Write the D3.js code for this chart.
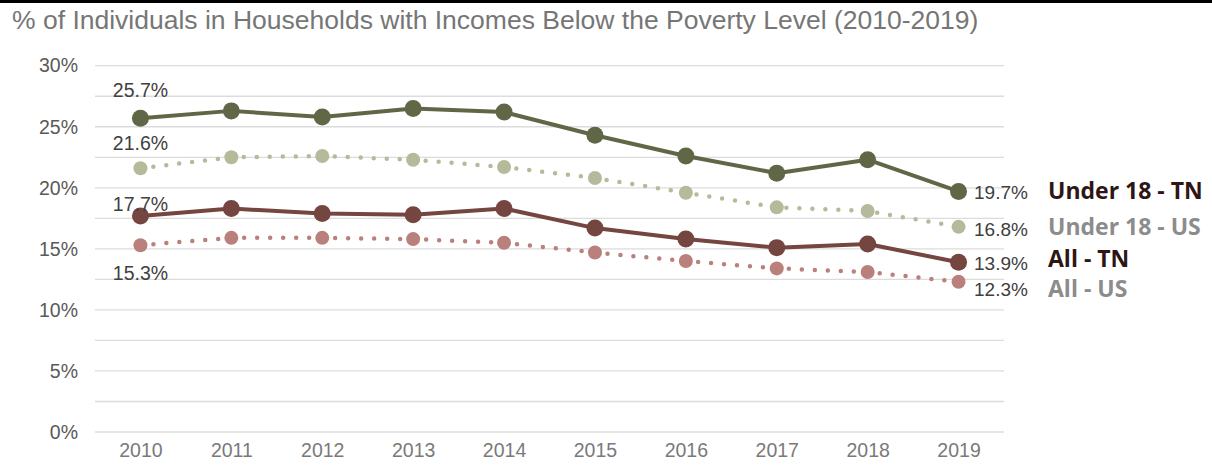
<!DOCTYPE html>
<html>
<head>
<meta charset="utf-8">
<script src="https://cdn.jsdelivr.net/npm/d3@7"></script>
<style>
  body { margin: 0; background: #fff; }
  svg { display: block; font-family: "Liberation Sans", Arial, sans-serif; }
</style>
</head>
<body>
<div id="chart"></div>
<script>
// data
const years = [2010, 2011, 2012, 2013, 2014, 2015, 2016, 2017, 2018, 2019];
const under18TN = [25.7, 26.3, 25.8, 26.5, 26.2, 24.3, 22.6, 21.2, 22.3, 19.7];
const under18US = [21.6, 22.5, 22.6, 22.3, 21.7, 20.8, 19.6, 18.4, 18.1, 16.8];
const allTN     = [17.7, 18.3, 17.9, 17.8, 18.3, 16.7, 15.8, 15.1, 15.4, 13.9];
const allUS     = [15.3, 15.9, 15.9, 15.8, 15.5, 14.7, 14.0, 13.4, 13.1, 12.3];
const yTicks = [0, 5, 10, 15, 20, 25, 30];
const gridTicks = [0, 2.5, 5, 7.5, 10, 12.5, 15, 17.5, 20, 22.5, 25, 27.5, 30];
const title = '% of Individuals in Households with Incomes Below the Poverty Level (2010-2019)';

const [width, height] = [1212, 468];

const series = [
    { name: 'Under 18 - TN', values: under18TN, color: '#606746', dotted: false, r: 8.5,
      legendColor: '#2e1614', legendY: 191, endY: 192, startLabelY: 90 },
    { name: 'Under 18 - US', values: under18US, color: '#b5bb9a', dotted: true, r: 7,
      legendColor: '#8c8c8c', legendY: 227, endY: 229, startLabelY: 143 },
    { name: 'All - TN', values: allTN, color: '#754540', dotted: false, r: 8.5,
      legendColor: '#2e1614', legendY: 259, endY: 263, startLabelY: 204 },
    { name: 'All - US', values: allUS, color: '#b9807c', dotted: true, r: 7,
      legendColor: '#8c8c8c', legendY: 289, endY: 289, startLabelY: 273 }
];

const x = d3.scalePoint()
    .domain(years)
    .range([95, 1004])
    .padding(0.5);

const y = d3.scaleLinear()
    .domain([0, 30])
    .range([432, 65.7]);

const svg = d3.select('#chart')
    .append('svg')
    .attr('width', width)
    .attr('height', height);

// top rule
svg.append('rect')
    .attr('x', 0).attr('y', 0)
    .attr('width', width).attr('height', 3)
    .attr('fill', '#000');

// title
svg.append('text')
    .attr('x', 12)
    .attr('y', 29)
    .attr('fill', '#767676')
    .style('font-size', '26.5px')
    .text(title);

// gridlines
svg.append('g')
    .selectAll('line')
    .data(gridTicks)
    .join('line')
    .attr('x1', 95)
    .attr('x2', 1004)
    .attr('y1', (d) => y(d))
    .attr('y2', (d) => y(d))
    .attr('stroke', '#dcdcdc')
    .attr('stroke-width', 1.3);

// y axis labels
const yAxis = d3.axisLeft(y)
    .tickValues(yTicks)
    .tickSize(0)
    .tickPadding(0)
    .tickFormat((d) => d + '%');

const gy = svg.append('g')
    .attr('transform', 'translate(78 0)')
    .call(yAxis);
gy.select('.domain').remove();
gy.selectAll('text')
    .attr('fill', '#595959')
    .style('font-size', '19.5px')
    .style('font-family', '"Liberation Sans", Arial, sans-serif');

// x axis labels
const xAxis = d3.axisBottom(x)
    .tickSize(0)
    .tickPadding(0);

const gx = svg.append('g')
    .attr('transform', 'translate(0 443)')
    .call(xAxis);
gx.select('.domain').remove();
gx.selectAll('text')
    .attr('fill', '#7a7a7a')
    .style('font-size', '19.5px')
    .style('font-family', '"Liberation Sans", Arial, sans-serif');

const line = d3.line()
    .x((d, i) => x(years[i]))
    .y((d) => y(d));

// draw order: US series behind TN series
const order = [series[3], series[1], series[2], series[0]];

order.forEach((s) => {
    const g = svg.append('g');
    g.append('path')
        .datum(s.values)
        .attr('d', line)
        .attr('fill', 'none')
        .attr('stroke', s.color)
        .attr('stroke-width', s.dotted ? 4.5 : 4)
        .attr('stroke-linecap', 'round')
        .attr('stroke-linejoin', 'round')
        .attr('stroke-dasharray', s.dotted ? '0 13' : null);

    g.selectAll('circle')
        .data(s.values)
        .join('circle')
        .attr('cx', (d, i) => x(years[i]))
        .attr('cy', (d) => y(d))
        .attr('r', s.r)
        .attr('fill', s.color);
});

// start / end value labels + legend
series.forEach((s) => {
    svg.append('text')
        .attr('x', x(years[0]))
        .attr('y', s.startLabelY)
        .attr('dy', '0.35em')
        .attr('text-anchor', 'middle')
        .attr('fill', '#404040')
        .style('font-size', '19.5px')
        .text(s.values[0].toFixed(1) + '%');

    svg.append('text')
        .attr('x', 974)
        .attr('y', s.endY)
        .attr('dy', '0.35em')
        .attr('fill', '#404040')
        .style('font-size', '19px')
        .text(s.values[s.values.length - 1].toFixed(1) + '%');

    svg.append('text')
        .attr('x', 1048)
        .attr('y', s.legendY)
        .attr('dy', '0.35em')
        .attr('fill', s.legendColor)
        .style('font-size', '23px')
        .style('font-weight', 'bold')
        .style('font-family', '"Open Sans", Lato, sans-serif')
        .text(s.name);
});
</script>
</body>
</html>
